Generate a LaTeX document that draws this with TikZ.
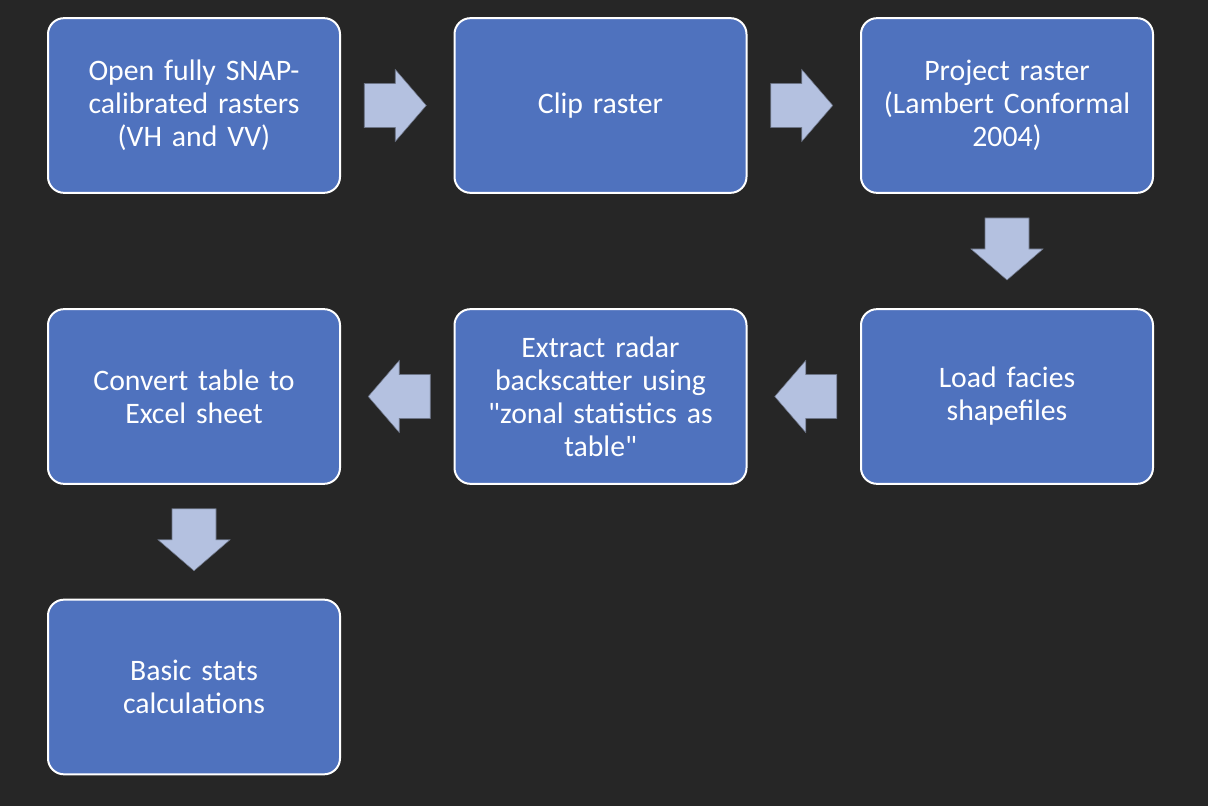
\documentclass[tikz,border=0pt]{standalone}
\usepackage{fontspec}
\setmainfont{Carlito}
\usetikzlibrary{calc}
\definecolor{bg}{RGB}{38,38,38}
\definecolor{boxblue}{RGB}{79,114,190}
\definecolor{arrowblue}{RGB}{180,193,224}
\newcommand{\straightquote}{\XeTeXglyph\XeTeXcharglyph"22\relax}

\begin{document}
\begin{tikzpicture}[x=0.75pt, y=-0.75pt]
            \tikzstyle{flow box} = [draw=white, line width=1.5pt, fill=boxblue, rounded corners=12pt, minimum width=219pt, minimum height=131pt, text width=205pt, align=center, text=white, font=\fontsize{22.3}{24.75}\selectfont]
            \tikzstyle{block arrow} = [fill=arrowblue, draw=arrowblue!60!black, line width=0.4pt]
            \tikzset{flow arrow/.pic={
                \draw[block arrow] (-33,-22) -- (-2,-22) -- (-2,-36) -- (29,0) -- (-2,36) -- (-2,22) -- (-33,22) -- cycle;
            }}
            
            \fill[bg] (0,0) rectangle (1208,806);
            
            % top row
            \node[flow box] (open) at (194,105.5) {Open fully SNAP-\\calibrated rasters\\(VH and VV)};
            \node[flow box] (clip) at (600.5,105.5) {Clip raster};
            \node[flow box] (project) at (1007,105.5) {Project raster\\(Lambert Conformal\\2004)};
            
            % middle row
            \node[flow box] (convert) at (194,396.5) {Convert table to\\Excel sheet};
            \node[flow box] (extract) at (600.5,396.5) {Extract radar\\backscatter using\\\straightquote zonal statistics as\\table\straightquote};
            \node[flow box] (load) at (1007,396.5) {Load facies\\shapefiles};
            
            % bottom row
            \node[flow box] (stats) at (194,687) {Basic stats\\calculations};
            
            \pic at ($(open.east)!0.5!(clip.west)$) {flow arrow};
            \pic at ($(clip.east)!0.5!(project.west)$) {flow arrow};
            \pic[rotate=-90] at ($(project.south)!0.5!(load.north)$) {flow arrow};
            \pic[rotate=180] at ($(load.west)!0.5!(extract.east)$) {flow arrow};
            \pic[rotate=180] at ($(extract.west)!0.5!(convert.east)$) {flow arrow};
            \pic[rotate=-90] at ($(convert.south)!0.5!(stats.north)$) {flow arrow};
            
        \end{tikzpicture}
\end{document}
